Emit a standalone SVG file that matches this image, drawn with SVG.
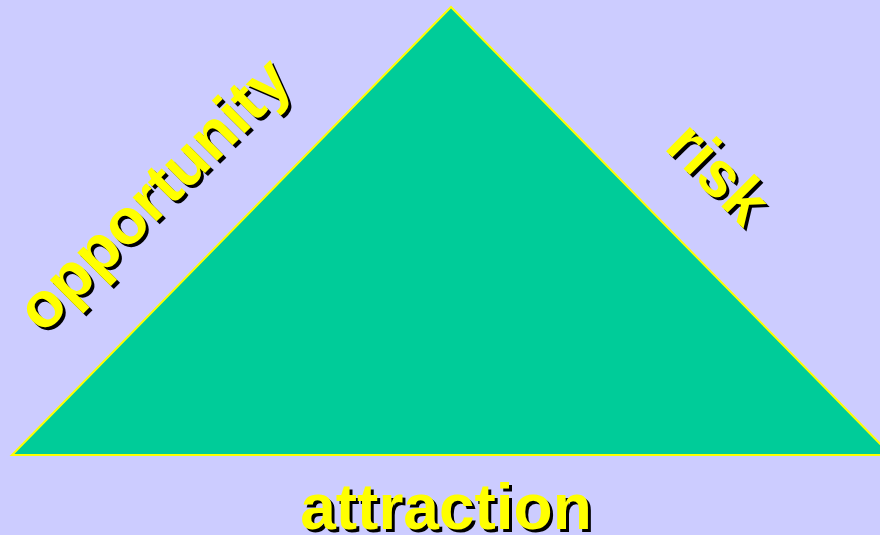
<svg xmlns="http://www.w3.org/2000/svg" width="880" height="535" viewBox="0 0 880 535">
<style>
.lbl{font-family:"Liberation Sans",Arial,sans-serif;font-weight:bold;font-size:64px}
.fg{fill:#FFFF00}
.sh{fill:#000000}
</style>
<rect width="880" height="535" fill="#CCCCFF"/>
<g id="triangle">
<polygon points="451,7 12,455 891,455" fill="#00CC99" stroke="#FFFF00" stroke-width="2"/>
</g>
<g id="connectors"></g>
<g id="opportunity">
<text class="lbl sh" transform="translate(3,3) rotate(-45 43 335)" x="43" y="335">opportunity</text>
<text class="lbl fg" transform="rotate(-45 43 335)" x="43" y="335">opportunity</text>
</g>
<g id="risk">
<text class="lbl sh" transform="translate(3,3) rotate(45 663 148)" x="663" y="148">risk</text>
<text class="lbl fg" transform="rotate(45 663 148)" x="663" y="148">risk</text>
</g>
<g id="attraction">
<text class="lbl sh" x="449" y="532" text-anchor="middle">attraction</text>
<text class="lbl fg" x="446" y="529" text-anchor="middle">attraction</text>
</g>
</svg>
